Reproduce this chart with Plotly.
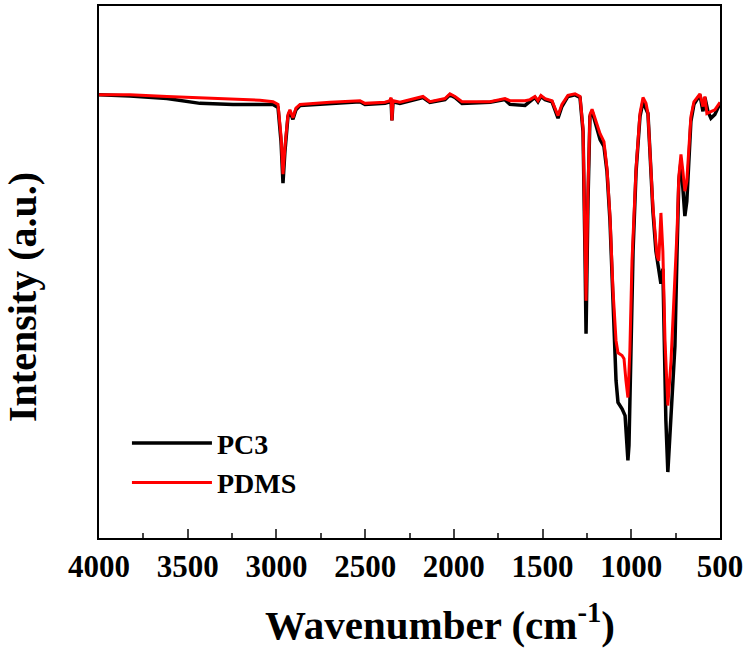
import plotly.graph_objects as go

# FTIR spectra (transmittance in a.u.)
pc3_wn = [4000, 3825, 3617, 3431, 3245, 3093, 3019, 2991, 2974, 2963, 2952, 2935, 2924, 2907,
          2890, 2867, 2698, 2529, 2501, 2388, 2360, 2354, 2349, 2343, 2304, 2174, 2135, 2050,
          2022, 1994, 1954, 1796, 1712, 1684, 1599, 1571, 1543, 1526, 1509, 1486, 1447, 1413,
          1391, 1357, 1317, 1289, 1272, 1261, 1255, 1244, 1233, 1221, 1199, 1176, 1154, 1137,
          1120, 1103, 1086, 1075, 1052, 1035, 1024, 1019, 1013, 1002, 990, 973, 951, 934, 917,
          906, 895, 878, 861, 845, 833, 822, 816, 805, 794, 782, 765, 754, 742, 732, 720, 709,
          698, 687, 675, 664, 647, 624, 613, 596, 585, 568, 551, 529, 506, 500]
pc3_t = [83.3, 83.1, 82.6, 81.7, 81.5, 81.5, 81.5, 80.9, 74.5, 66.7, 72.7, 79.2, 80.2, 78.7,
         80.5, 81.3, 81.7, 82.0, 81.5, 81.7, 82.0, 82.6, 78.5, 82.0, 81.7, 82.8, 81.9, 82.4,
         83.3, 82.8, 81.7, 81.9, 82.4, 81.5, 81.3, 82.0, 82.8, 82.0, 83.0, 82.4, 82.0, 78.9,
         81.1, 83.0, 83.3, 82.8, 76.4, 53.9, 38.4, 63.3, 79.2, 80.2, 77.4, 74.9, 73.6, 68.9,
         59.6, 44.6, 29.6, 25.5, 24.3, 23.0, 18.4, 14.6, 17.4, 37.1, 53.9, 68.9, 79.2, 82.0, 80.5,
         79.8, 72.7, 61.4, 53.9, 50.2, 47.8, 50.6, 40.8, 22.1, 12.4, 20.2, 31.5, 36.1, 53.9, 67.1,
         70.8, 66.1, 60.5, 63.3, 70.8, 78.3, 81.5, 82.6, 83.3, 80.2, 82.8, 80.2, 78.9, 79.6, 81.3,
         81.7]

pdms_wn = [4000, 3825, 3617, 3431, 3245, 3093, 3019, 2991, 2974, 2963, 2952, 2935, 2924, 2907,
           2890, 2867, 2698, 2529, 2501, 2388, 2360, 2354, 2349, 2343, 2304, 2174, 2135, 2050,
           2022, 1994, 1954, 1796, 1712, 1684, 1599, 1571, 1543, 1526, 1509, 1486, 1447, 1413,
           1391, 1357, 1317, 1289, 1272, 1261, 1255, 1244, 1233, 1221, 1199, 1176, 1154, 1137,
           1120, 1103, 1086, 1075, 1052, 1041, 1030, 1019, 1008, 996, 973, 951, 934, 917,
           906, 895, 878, 855, 845, 833, 822, 810, 794, 776, 760, 742, 732, 720, 709,
           698, 687, 675, 664, 647, 613, 596, 585, 574, 529, 500]
pdms_t = [83.3, 83.3, 83.0, 82.8, 82.6, 82.3, 82.0, 81.5, 75.5, 68.4, 73.5, 79.6, 80.5, 79.0,
          80.8, 81.5, 81.9, 82.2, 81.7, 81.9, 82.2, 82.8, 78.5, 82.2, 81.9, 83.0, 82.0, 82.6,
          83.5, 83.0, 82.0, 82.0, 82.6, 82.2, 82.2, 82.4, 83.0, 82.2, 83.2, 82.6, 82.2, 79.4,
          81.5, 83.2, 83.5, 83.0, 77.0, 56.0, 44.6, 65.5, 79.6, 80.6, 78.5, 76.0, 74.5, 69.5,
          60.5, 46.5, 37.1, 34.8, 34.3, 33.7, 29.6, 26.4, 35.2, 52.1, 69.5, 79.8, 82.8, 81.7,
          79.8, 73.3, 62.3, 53.0, 52.1, 61.1, 53.9, 37.1, 24.9, 33.3, 44.6, 57.7, 68.0, 72.1, 68.9,
          65.2, 67.1, 72.7, 79.2, 82.0, 83.5, 81.1, 83.0, 79.8, 80.5, 81.9]

serif = "Liberation Serif"

fig = go.Figure()
fig.add_trace(go.Scatter(x=pc3_wn, y=pc3_t, mode='lines', name='PC3',
                         line=dict(color='black', width=3.5)))
fig.add_trace(go.Scatter(x=pdms_wn, y=pdms_t, mode='lines', name='PDMS',
                         line=dict(color='rgb(255, 0, 0)', width=3)))

fig.update_layout(width=750, height=651, plot_bgcolor='white', paper_bgcolor='white',
                  margin=dict(l=99, r=30, t=4, b=113),
                  font=dict(family=serif, color='black'),
                  legend=dict(x=0.045, y=0.225, xanchor='left', yanchor='top',
                              bgcolor='rgba(0,0,0,0)', itemwidth=80,
                              font=dict(family=serif, size=28, weight='bold')))

fig.update_xaxes(range=[4000, 500], dtick=500, tick0=500, ticks='inside', ticklen=9,
                 tickwidth=2, showline=True, linewidth=2, linecolor='black', mirror=True,
                 showgrid=False, zeroline=False,
                 tickfont=dict(family=serif, size=31, weight='bold'),
                 minor=dict(dtick=250, ticks='inside', ticklen=5, tickwidth=2, showgrid=False))
fig.update_yaxes(range=[0, 100], showticklabels=False, ticks='', showline=True, linewidth=2,
                 linecolor='black', mirror=True, showgrid=False, zeroline=False)

# axis titles placed as in the reference (not centred on the plot area)
fig.add_annotation(text='Wavenumber (cm<sup>-1</sup>)', xref='paper', yref='paper',
                   x=0.549, y=-0.158, xanchor='center', yanchor='middle', showarrow=False,
                   font=dict(family=serif, size=41, weight='bold'))
fig.add_annotation(text='Intensity (a.u.)', xref='paper', yref='paper', textangle=-90,
                   x=-0.124, y=0.453, xanchor='center', yanchor='middle', showarrow=False,
                   font=dict(family=serif, size=40, weight='bold'))

fig.write_html("out.html", config={'displayModeBar': False},
               post_script="document.body.style.margin='0';")
